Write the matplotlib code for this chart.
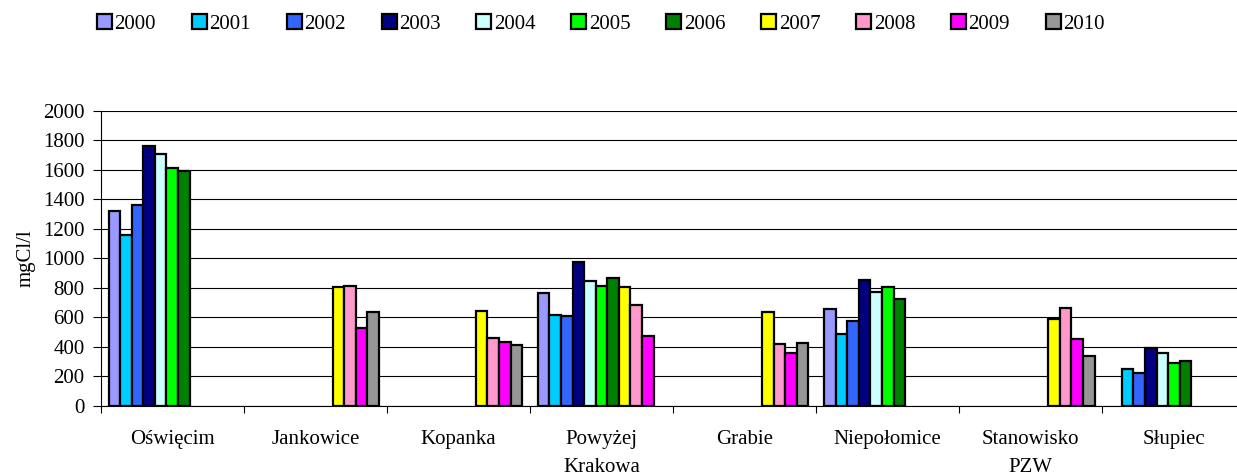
import numpy as np
import matplotlib
matplotlib.use('Agg')
import matplotlib.pyplot as plt
from matplotlib.ticker import FixedLocator, NullFormatter

plt.rcParams['font.family'] = ['Liberation Serif', 'DejaVu Serif']

nan = np.nan

# categories (measurement points)
categories = ['Oświęcim', 'Jankowice', 'Kopanka', 'Powyżej\nKrakowa', 'Grabie',
              'Niepołomice', 'Stanowisko\nPZW', 'Słupiec']
years = ['2000', '2001', '2002', '2003', '2004', '2005', '2006', '2007', '2008', '2009', '2010']

# values in mgCl/l, one list per year
v2000 = [1320, nan, nan, 767, nan, 655, nan, nan]
v2001 = [1160, nan, nan, 614, nan, 485, nan, 248]
v2002 = [1362, nan, nan, 607, nan, 578, nan, 221]
v2003 = [1763, nan, nan, 975, nan, 851, nan, 393]
v2004 = [1707, nan, nan, 844, nan, 774, nan, 361]
v2005 = [1610, nan, nan, 815, nan, 806, nan, 291]
v2006 = [1588, nan, nan, 869, nan, 722, nan, 305]
v2007 = [nan, 805, 646, 804, 637, nan, 591, nan]
v2008 = [nan, 815, 457, 682, 422, nan, 661, nan]
v2009 = [nan, 527, 430, 476, 359, nan, 451, nan]
v2010 = [nan, 633, 411, nan, 427, nan, 336, nan]
series = [v2000, v2001, v2002, v2003, v2004, v2005, v2006, v2007, v2008, v2009, v2010]

colors = ['#9999FF', '#00CCFF', '#3366FF', '#000080', '#CCFFFF', '#00FF00',
          '#008000', '#FFFF00', '#FF99CC', '#FF00FF', '#969696']

fig = plt.figure(figsize=(12.37, 4.75), dpi=100)
ax = fig.add_axes([100.7 / 1237, 69 / 475, 1136.3 / 1237, 295.5 / 475])

w = 0.0809
x = np.arange(len(categories)) + 0.5
handles = []
for i, (vals, col, yr) in enumerate(zip(series, colors, years)):
    vals = np.array(vals, dtype=float)
    m = ~np.isnan(vals)
    ax.bar(x[m] + (i - 5) * w, vals[m], width=w, color=col,
           edgecolor='black', linewidth=1.6, zorder=3)
    handles.append(plt.Rectangle((0, 0), 1, 1, facecolor=col, edgecolor='black', linewidth=1.6))

ax.set_ylim(0, 2000)
ax.set_xlim(0, 1136.3 / 143.1)
ax.set_yticks(np.arange(0, 2001, 200))
ax.yaxis.grid(True, color='black', linewidth=0.8)
ax.set_axisbelow(True)

ax.xaxis.set_major_locator(FixedLocator(np.arange(0, 9)))
ax.xaxis.set_major_formatter(NullFormatter())
ax.xaxis.set_minor_locator(FixedLocator(x))
ax.set_xticklabels(categories, minor=True)
ax.tick_params(axis='x', which='major', direction='out', length=5, width=0.8)
ax.tick_params(axis='x', which='minor', length=0, pad=17, labelsize=15)
ax.tick_params(axis='y', direction='out', length=5.5, width=0.8, pad=6, labelsize=15)
for lab in ax.xaxis.get_minorticklabels():
    lab.set_linespacing(1.65)

for s in ['top', 'right']:
    ax.spines[s].set_visible(False)
for s in ['left', 'bottom']:
    ax.spines[s].set_linewidth(0.8)

fig.text(26 / 1237, 1 - 258 / 475, 'mgCl/l', rotation=90, fontsize=15,
         ha='center', va='center')

fig.legend(handles, years, loc='center left', bbox_to_anchor=(97 / 1237, 1 - 24 / 475),
           ncol=11, frameon=False, fontsize=15, handlelength=0.72, handleheight=0.72,
           handletextpad=0.12, columnspacing=1.72, borderpad=0, borderaxespad=0)

fig.savefig('out.png', dpi=100)
